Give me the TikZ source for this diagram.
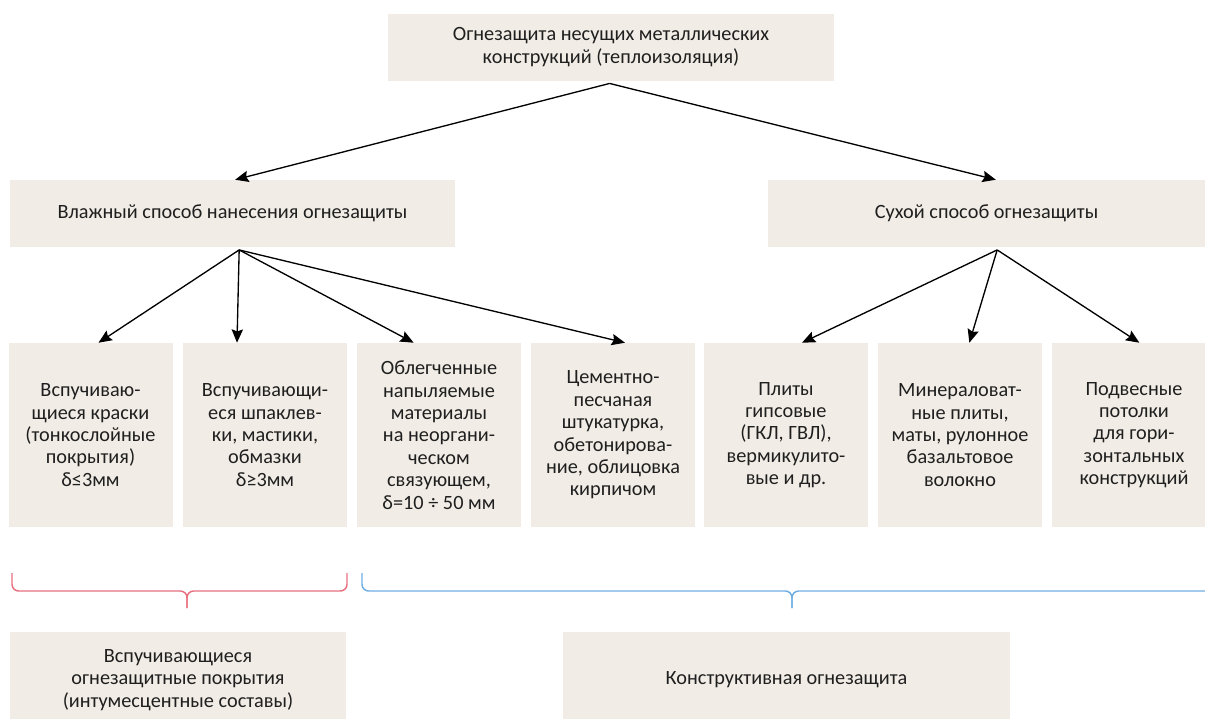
\documentclass[tikz,border=0pt]{standalone}
\usepackage{fontspec}
\setmainfont{Carlito}
\usetikzlibrary{arrows.meta}
\definecolor{boxfill}{HTML}{F1EDE6}
\definecolor{bracered}{HTML}{E8707F}
\definecolor{braceblue}{HTML}{6EAEE2}
\def\px{0.75pt}
\begin{document}
\begin{tikzpicture}[x=\px,y=-\px,
  box/.style={fill=boxfill,align=center,inner sep=0pt,text=black!88,
    font=\fontsize{15.2pt}{16.8pt}\selectfont},
  wide/.style={box,minimum height=67*\px},
  item/.style={box,minimum width=164*\px,minimum height=184*\px},
  arr/.style={-{Stealth[length=10pt,width=8.5pt,inset=1.5pt]},line width=1pt},
  brace/.style={line width=1.1pt,rounded corners=5pt}]
\useasboundingbox (0,0) rectangle (1205,718);
% top level
\draw (611,47) node[wide,minimum width=446*\px] (top) {Огнезащита несущих металлических\\конструкций (теплоизоляция)};
\draw (232.5,213.5) node[wide,minimum width=445*\px] (wet) {Влажный способ нанесения огнезащиты};
\draw (986.5,213.5) node[wide,minimum width=437*\px] (dry) {Сухой способ огнезащиты};
% seven boxes
\draw (90.5,435) node[item] (b1) {Вспучиваю-\\щиеся краски\\(тонкослойные\\покрытия)\\δ≤3мм};
\draw (265,435) node[item] (b2) {Вспучивающи-\\еся шпаклев-\\ки, мастики,\\обмазки\\δ≥3мм};
\draw (439,435) node[item] (b3) {Облегченные\\напыляемые\\материалы\\на неоргани-\\ческом\\связующем,\\δ=10 ÷ 50 мм};
\draw (613,435) node[item] (b4) {Цементно-\\песчаная\\штукатурка,\\обетонирова-\\ние, облицовка\\кирпичом};
\draw (786,435) node[item] (b5) {Плиты\\гипсовые\\(ГКЛ, ГВЛ),\\вермикулито-\\вые и др.};
\draw (960,435) node[item] (b6) {Минераловат-\\ные плиты,\\маты, рулонное\\базальтовое\\волокно};
\draw (1134,435) node[item] (b7) {Подвесные\\потолки\\для гори-\\зонтальных\\конструкций};
% groups
\draw (178,680) node[box,minimum width=336*\px,minimum height=96*\px] (intum) {Вспучивающиеся\\огнезащитные покрытия\\(интумесцентные составы)};
\draw (786.5,680) node[box,minimum width=447*\px,minimum height=96*\px] (constr) {Конструктивная огнезащита};
% arrows
\path[arr] ([xshift=-1pt,yshift=-2pt]top.south) edge ([xshift=2pt]wet.north);
\path[arr] ([xshift=-1pt,yshift=-2pt]top.south) edge ([xshift=7pt]dry.north);
\path[arr] ([xshift=5pt,yshift=-2pt]wet.south) edge ([xshift=6pt]b1.north);
\path[arr] ([xshift=5pt,yshift=-2pt]wet.south) edge ([xshift=-21pt]b2.north);
\path[arr] ([xshift=5pt,yshift=-2pt]wet.south) edge ([xshift=-19pt]b3.north);
\path[arr] ([xshift=5pt,yshift=-2pt]wet.south) edge ([xshift=9pt]b4.north);
\path[arr] ([xshift=8pt,yshift=-2pt]dry.south) edge ([xshift=12pt]b5.north);
\path[arr] ([xshift=8pt,yshift=-2pt]dry.south) edge ([xshift=7pt]b6.north);
\path[arr] ([xshift=8pt,yshift=-2pt]dry.south) edge ([xshift=4pt]b7.north);
% braces
\draw[brace,bracered] (12,573) -- (12,591) -- (187,591) -- (187,608);
\draw[brace,bracered] (347,573) -- (347,591) -- (187,591) -- (187,608);
\draw[brace,braceblue] (362,573) -- (362,591) -- (792,591) -- (792,608);
\draw[brace,braceblue] (1212,591) -- (792,591) -- (792,608);
\end{tikzpicture}
\end{document}
